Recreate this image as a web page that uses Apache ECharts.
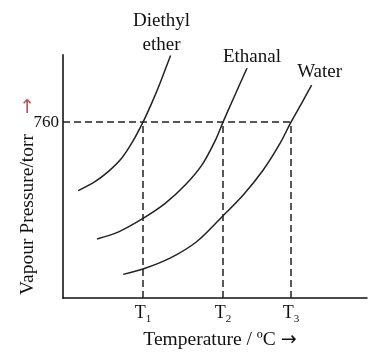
<!DOCTYPE html>
<html>
<head>
<meta charset="utf-8">
<script src="https://cdn.jsdelivr.net/npm/echarts@6/dist/echarts.min.js"></script>
<style>
  html, body { margin: 0; padding: 0; background: #fff; }
  #chart { width: 388px; height: 354px; }
</style>
</head>
<body>
<div id="chart"></div>
<script>
// curve points: [temperature, pressure]
var etherPts = [[7.6, 464], [16, 503], [22.6, 546], [29.3, 604], [35.1, 680], [40, 760], [44.3, 841], [48.5, 928], [52.6, 1021], [53.8, 1048]];
var ethanalPts = [[17, 255], [27.8, 286], [40, 344], [51.1, 409], [61.1, 488], [69.5, 575], [76.1, 680], [80, 760], [84.5, 848], [88.6, 928], [92, 993]];
var waterPts = [[30.1, 102], [40, 125], [53.5, 172], [66.8, 243], [79.3, 349], [90.1, 445], [100.1, 553], [108.5, 668], [114, 760], [119.3, 841], [124.3, 920]];
var curveNames = ['Diethyl\nether', 'Ethanal', 'Water'];
var boilTemps = [40, 80, 114];
var tickNames = ['1', '2', '3'];
var atmPressure = 760;

var serif = 'Liberation Serif';

function curve(name, pts, off) {
    return {
        type: 'line', name: name, data: pts, smooth: 0.3,
        showSymbol: true, symbol: 'circle', symbolSize: 0, silent: true,
        lineStyle: { color: '#222', width: 1.5 },
        label: {
            show: true, position: 'top', distance: 2, offset: off,
            fontFamily: serif, fontSize: 19, color: '#111', lineHeight: 24,
            formatter: function (p) { return p.dataIndex === pts.length - 1 ? name : ''; }
        }
    };
}

var refLines = [[{ coord: [0, atmPressure] }, { coord: [boilTemps[2], atmPressure] }]];
boilTemps.forEach(function (t) {
    refLines.push([{ coord: [t, 0] }, { coord: [t, atmPressure] }]);
});

var chart = echarts.init(document.getElementById('chart'));
chart.setOption({
    animation: false,
    textStyle: { fontFamily: serif },
    grid: { left: 63, right: 21, top: 55, bottom: 56, outerBoundsMode: 'none' },
    xAxis: {
        type: 'value', min: 0, max: 152,
        splitLine: { show: false }, axisTick: { show: false },
        axisLine: { lineStyle: { color: '#111', width: 1.5 } },
        axisLabel: {
            customValues: boilTemps, margin: 4,
            formatter: function (v) { return '{t|T}{s|' + tickNames[boilTemps.indexOf(v)] + '}'; },
            rich: {
                t: { fontFamily: serif, fontSize: 18, color: '#111' },
                s: { fontFamily: serif, fontSize: 11, color: '#111', padding: [12, 0, 0, 0] }
            }
        },
        name: 'Temperature / ºC {a|→}', nameLocation: 'middle', nameGap: 32,
        nameTextStyle: {
            fontFamily: serif, fontSize: 19.5, color: '#111', padding: [0, 0, 0, 10],
            rich: { a: { fontFamily: 'DejaVu Sans', fontSize: 19, color: '#111' } }
        }
    },
    yAxis: {
        type: 'value', min: 0, max: 1050,
        splitLine: { show: false }, axisTick: { show: false },
        axisLine: { lineStyle: { color: '#444', width: 2 } },
        axisLabel: {
            customValues: [atmPressure], margin: 4,
            fontFamily: serif, fontSize: 17, color: '#111'
        },
        name: 'Vapour Pressure/torr{r|→}', nameLocation: 'middle', nameGap: 25,
        nameMoveOverlap: false,
        nameTextStyle: {
            fontFamily: serif, fontSize: 19.5, color: '#111', padding: [0, 40, 0, 0],
            rich: { r: { fontFamily: 'DejaVu Sans', fontSize: 19, color: '#c0504d', padding: [0, 0, 0, 20] } }
        }
    },
    series: [
        curve(curveNames[0], etherPts, [-9, 4]),
        curve(curveNames[1], ethanalPts, [5, 3]),
        curve(curveNames[2], waterPts, [8, 1]),
        {
            type: 'line', data: [], silent: true,
            markLine: {
                silent: true, symbol: 'none', label: { show: false },
                lineStyle: { color: '#222', width: 1.5, type: [7, 4] },
                data: refLines
            }
        }
    ]
});
</script>
</body>
</html>
